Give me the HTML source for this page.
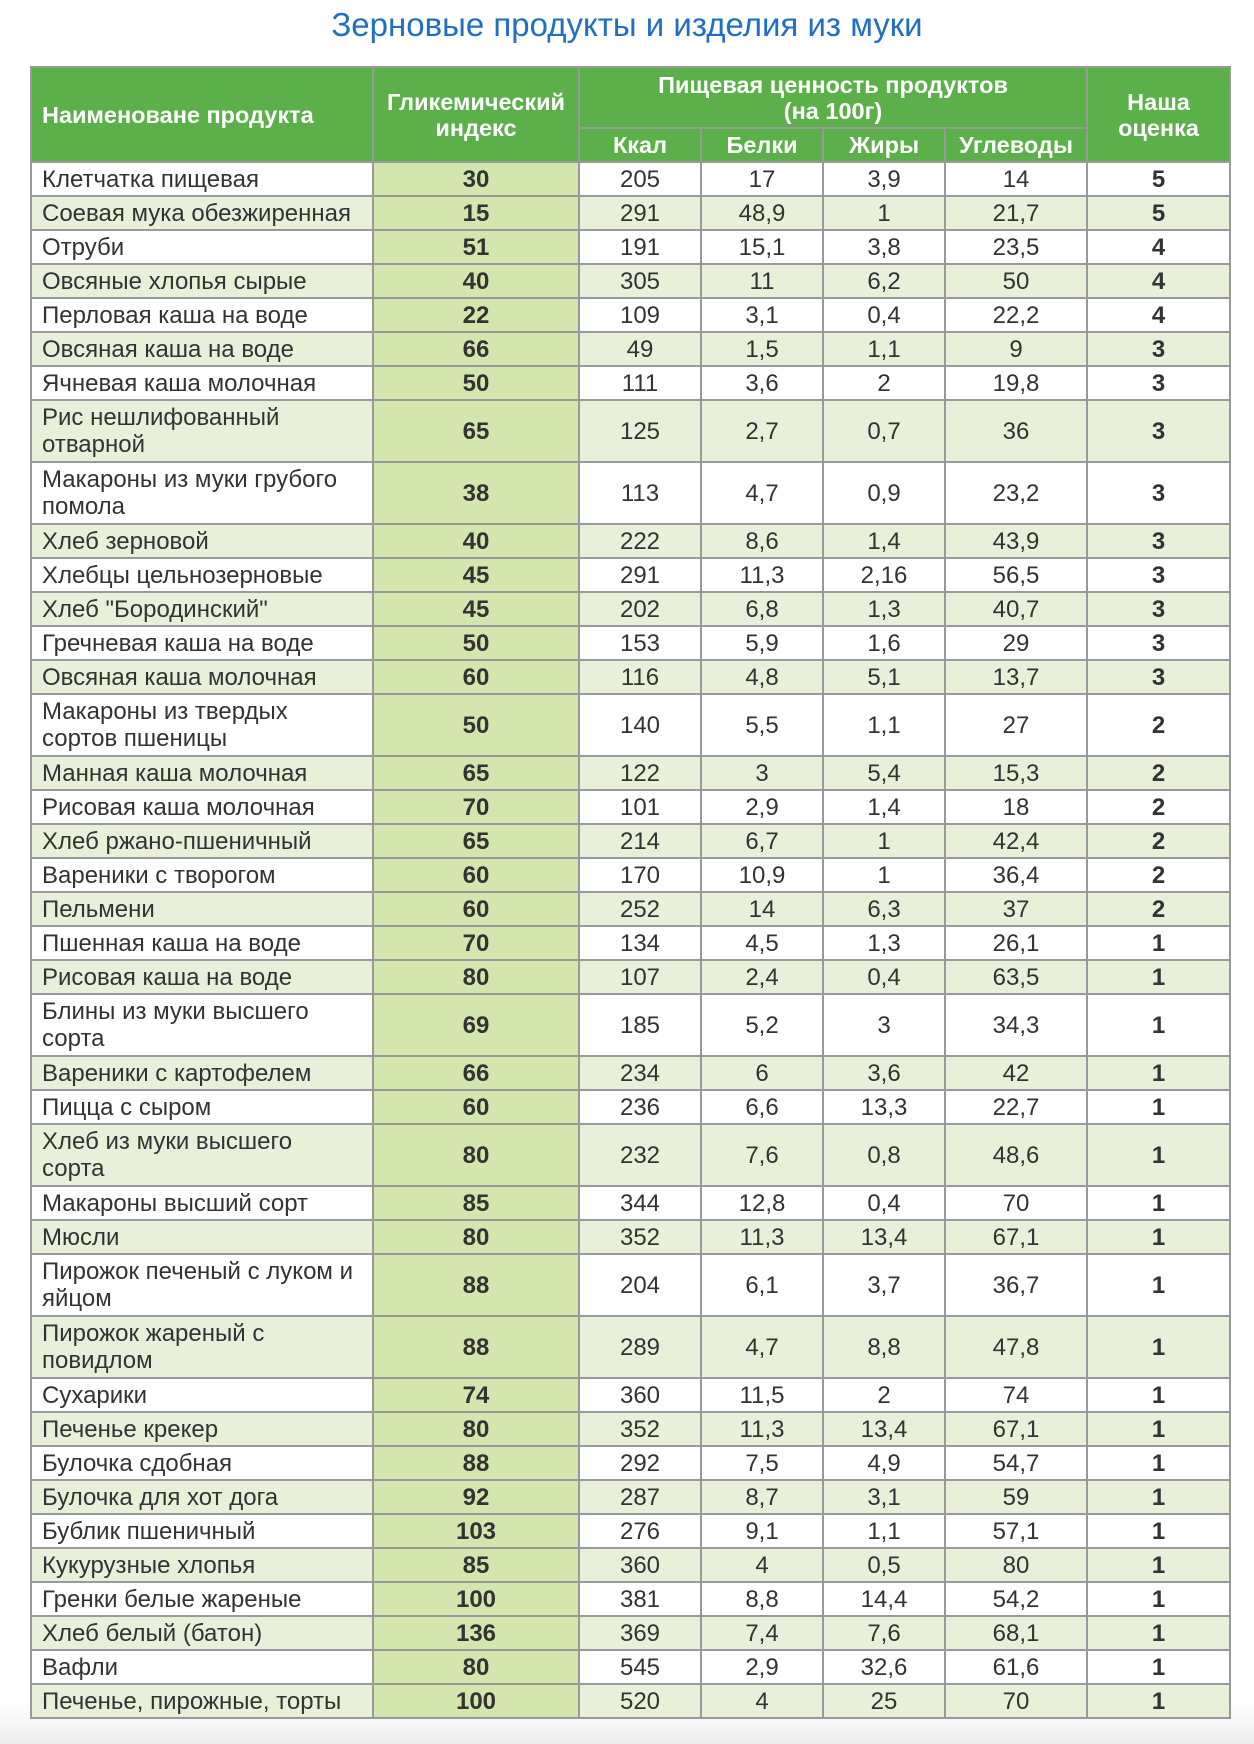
<!DOCTYPE html>
<html><head><meta charset="utf-8"><style>
html,body{margin:0;padding:0;}
body{width:1254px;height:1744px;background:linear-gradient(#fff 0,#fff 1700px,#eee 1744px);font-family:"Liberation Sans",Arial,sans-serif;position:relative;overflow:hidden;}
h1{position:absolute;left:0;top:3px;width:1254px;margin:0;text-align:center;font-weight:normal;font-size:33px;color:#1f6fc6;line-height:44px;}
table{position:absolute;left:30px;top:66px;border-collapse:collapse;table-layout:fixed;width:1199px;}
td,th{border:2px solid #999;padding:0;color:#333;font-size:24px;text-align:center;line-height:27px;}
th{background:#5cb04a;color:#fff;font-weight:bold;font-size:23.5px;line-height:26px;}
th.l{text-align:left;padding-left:10px;}
td.n{text-align:left;padding-left:10px;}
td.g{background:#d3e6ad;font-weight:bold;}
td.r{font-weight:bold;}
tr.s td{height:32px;}
tr.d td{height:60px;}
tr.a td{background:#e8f0da;}
tr.a td.g{background:#d3e6ad;}
</style></head><body>
<h1>Зерновые продукты и изделия из муки</h1>
<table>
<colgroup><col style="width:342px"><col style="width:206px"><col style="width:122px"><col style="width:122px"><col style="width:122px"><col style="width:142px"><col style="width:143px"></colgroup>
<tr style="height:61px"><th rowspan="2" class="l">Наименоване продукта</th><th rowspan="2">Гликемический<br>индекс</th><th colspan="4">Пищевая ценность продуктов<br>(на 100г)</th><th rowspan="2">Наша<br>оценка</th></tr>
<tr style="height:34px"><th>Ккал</th><th>Белки</th><th>Жиры</th><th>Углеводы</th></tr>
<tr class="s"><td class="n">Клетчатка пищевая</td><td class="g">30</td><td>205</td><td>17</td><td>3,9</td><td>14</td><td class="r">5</td></tr>
<tr class="s a"><td class="n">Соевая мука обезжиренная</td><td class="g">15</td><td>291</td><td>48,9</td><td>1</td><td>21,7</td><td class="r">5</td></tr>
<tr class="s"><td class="n">Отруби</td><td class="g">51</td><td>191</td><td>15,1</td><td>3,8</td><td>23,5</td><td class="r">4</td></tr>
<tr class="s a"><td class="n">Овсяные хлопья сырые</td><td class="g">40</td><td>305</td><td>11</td><td>6,2</td><td>50</td><td class="r">4</td></tr>
<tr class="s"><td class="n">Перловая каша на воде</td><td class="g">22</td><td>109</td><td>3,1</td><td>0,4</td><td>22,2</td><td class="r">4</td></tr>
<tr class="s a"><td class="n">Овсяная каша на воде</td><td class="g">66</td><td>49</td><td>1,5</td><td>1,1</td><td>9</td><td class="r">3</td></tr>
<tr class="s"><td class="n">Ячневая каша молочная</td><td class="g">50</td><td>111</td><td>3,6</td><td>2</td><td>19,8</td><td class="r">3</td></tr>
<tr class="d a"><td class="n">Рис нешлифованный<br>отварной</td><td class="g">65</td><td>125</td><td>2,7</td><td>0,7</td><td>36</td><td class="r">3</td></tr>
<tr class="d"><td class="n">Макароны из муки грубого<br>помола</td><td class="g">38</td><td>113</td><td>4,7</td><td>0,9</td><td>23,2</td><td class="r">3</td></tr>
<tr class="s a"><td class="n">Хлеб зерновой</td><td class="g">40</td><td>222</td><td>8,6</td><td>1,4</td><td>43,9</td><td class="r">3</td></tr>
<tr class="s"><td class="n">Хлебцы цельнозерновые</td><td class="g">45</td><td>291</td><td>11,3</td><td>2,16</td><td>56,5</td><td class="r">3</td></tr>
<tr class="s a"><td class="n">Хлеб "Бородинский"</td><td class="g">45</td><td>202</td><td>6,8</td><td>1,3</td><td>40,7</td><td class="r">3</td></tr>
<tr class="s"><td class="n">Гречневая каша на воде</td><td class="g">50</td><td>153</td><td>5,9</td><td>1,6</td><td>29</td><td class="r">3</td></tr>
<tr class="s a"><td class="n">Овсяная каша молочная</td><td class="g">60</td><td>116</td><td>4,8</td><td>5,1</td><td>13,7</td><td class="r">3</td></tr>
<tr class="d"><td class="n">Макароны из твердых<br>сортов пшеницы</td><td class="g">50</td><td>140</td><td>5,5</td><td>1,1</td><td>27</td><td class="r">2</td></tr>
<tr class="s a"><td class="n">Манная каша молочная</td><td class="g">65</td><td>122</td><td>3</td><td>5,4</td><td>15,3</td><td class="r">2</td></tr>
<tr class="s"><td class="n">Рисовая каша молочная</td><td class="g">70</td><td>101</td><td>2,9</td><td>1,4</td><td>18</td><td class="r">2</td></tr>
<tr class="s a"><td class="n">Хлеб ржано-пшеничный</td><td class="g">65</td><td>214</td><td>6,7</td><td>1</td><td>42,4</td><td class="r">2</td></tr>
<tr class="s"><td class="n">Вареники с творогом</td><td class="g">60</td><td>170</td><td>10,9</td><td>1</td><td>36,4</td><td class="r">2</td></tr>
<tr class="s a"><td class="n">Пельмени</td><td class="g">60</td><td>252</td><td>14</td><td>6,3</td><td>37</td><td class="r">2</td></tr>
<tr class="s"><td class="n">Пшенная каша на воде</td><td class="g">70</td><td>134</td><td>4,5</td><td>1,3</td><td>26,1</td><td class="r">1</td></tr>
<tr class="s a"><td class="n">Рисовая каша на воде</td><td class="g">80</td><td>107</td><td>2,4</td><td>0,4</td><td>63,5</td><td class="r">1</td></tr>
<tr class="d"><td class="n">Блины из муки высшего<br>сорта</td><td class="g">69</td><td>185</td><td>5,2</td><td>3</td><td>34,3</td><td class="r">1</td></tr>
<tr class="s a"><td class="n">Вареники с картофелем</td><td class="g">66</td><td>234</td><td>6</td><td>3,6</td><td>42</td><td class="r">1</td></tr>
<tr class="s"><td class="n">Пицца с сыром</td><td class="g">60</td><td>236</td><td>6,6</td><td>13,3</td><td>22,7</td><td class="r">1</td></tr>
<tr class="d a"><td class="n">Хлеб из муки высшего<br>сорта</td><td class="g">80</td><td>232</td><td>7,6</td><td>0,8</td><td>48,6</td><td class="r">1</td></tr>
<tr class="s"><td class="n">Макароны высший сорт</td><td class="g">85</td><td>344</td><td>12,8</td><td>0,4</td><td>70</td><td class="r">1</td></tr>
<tr class="s a"><td class="n">Мюсли</td><td class="g">80</td><td>352</td><td>11,3</td><td>13,4</td><td>67,1</td><td class="r">1</td></tr>
<tr class="d"><td class="n">Пирожок печеный с луком и<br>яйцом</td><td class="g">88</td><td>204</td><td>6,1</td><td>3,7</td><td>36,7</td><td class="r">1</td></tr>
<tr class="d a"><td class="n">Пирожок жареный с<br>повидлом</td><td class="g">88</td><td>289</td><td>4,7</td><td>8,8</td><td>47,8</td><td class="r">1</td></tr>
<tr class="s"><td class="n">Сухарики</td><td class="g">74</td><td>360</td><td>11,5</td><td>2</td><td>74</td><td class="r">1</td></tr>
<tr class="s a"><td class="n">Печенье крекер</td><td class="g">80</td><td>352</td><td>11,3</td><td>13,4</td><td>67,1</td><td class="r">1</td></tr>
<tr class="s"><td class="n">Булочка сдобная</td><td class="g">88</td><td>292</td><td>7,5</td><td>4,9</td><td>54,7</td><td class="r">1</td></tr>
<tr class="s a"><td class="n">Булочка для хот дога</td><td class="g">92</td><td>287</td><td>8,7</td><td>3,1</td><td>59</td><td class="r">1</td></tr>
<tr class="s"><td class="n">Бублик пшеничный</td><td class="g">103</td><td>276</td><td>9,1</td><td>1,1</td><td>57,1</td><td class="r">1</td></tr>
<tr class="s a"><td class="n">Кукурузные хлопья</td><td class="g">85</td><td>360</td><td>4</td><td>0,5</td><td>80</td><td class="r">1</td></tr>
<tr class="s"><td class="n">Гренки белые жареные</td><td class="g">100</td><td>381</td><td>8,8</td><td>14,4</td><td>54,2</td><td class="r">1</td></tr>
<tr class="s a"><td class="n">Хлеб белый (батон)</td><td class="g">136</td><td>369</td><td>7,4</td><td>7,6</td><td>68,1</td><td class="r">1</td></tr>
<tr class="s"><td class="n">Вафли</td><td class="g">80</td><td>545</td><td>2,9</td><td>32,6</td><td>61,6</td><td class="r">1</td></tr>
<tr class="s a"><td class="n">Печенье, пирожные, торты</td><td class="g">100</td><td>520</td><td>4</td><td>25</td><td>70</td><td class="r">1</td></tr>
</table>
</body></html>
